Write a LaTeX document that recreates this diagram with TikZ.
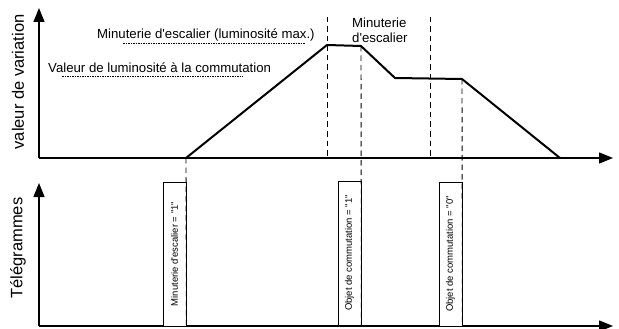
\documentclass[tikz,border=0pt]{standalone}
\usepackage{fontspec}
\setmainfont{Liberation Sans}[Ligatures=TeXOff]
\usetikzlibrary{arrows.meta}
\begin{document}
\begin{tikzpicture}[x=1pt,y=-1pt,
  axis/.style={line width=1.4pt,-{Triangle[length=14pt,width=11pt]}},
  curve/.style={line width=2pt,line join=miter},
  guide/.style={line width=0.9pt,dash pattern=on 5.5pt off 4pt},
  underl/.style={line width=0.6pt,dash pattern=on 1.5pt off 1pt},
  lbl/.style={font=\fontsize{13.2}{15}\selectfont,inner sep=0pt},
  axlbl/.style={font=\fontsize{16.5}{18}\selectfont,rotate=90,inner sep=0pt},
  tgbox/.style={draw,line width=0.8pt,fill=white,rotate=90,minimum width=144pt,
    minimum height=23pt,inner sep=0pt,font=\fontsize{9.5}{10}\selectfont}]
\useasboundingbox (0,0) rectangle (619,329);

% axes
\coordinate (o1) at (39,158);
\coordinate (y1) at (39,8);
\coordinate (x1) at (613,158);
\coordinate (o2) at (39,326);
\coordinate (y2) at (39,183);
\coordinate (x2) at (613,326);
\draw[axis] (o1) -- (y1);
\draw[axis] (o1) -- (x1);
\draw[axis] (o2) -- (y2);
\draw[axis] (o2) -- (x2);

% axis titles
\node[axlbl] (ylab1) at (18,82) {valeur de variation};
\node[axlbl] (ylab2) at (18,248) {Télégrammes};

% brightness curve
\coordinate (p0) at (186,158);
\coordinate (p1) at (327,45);
\coordinate (p2) at (361,46);
\coordinate (p3) at (395,78);
\coordinate (p4) at (462,79);
\coordinate (p5) at (560,158);
\draw[curve] (p0) -- (p1) -- (p2) -- (p3) -- (p4) -- (p5);

% telegram boxes
\node[tgbox] (b1) at (174.5,254) {Minuterie d'escalier = "1"};
\node[tgbox] (b2) at (349.5,253) {Objet de commutation = "1"};
\node[tgbox] (b3) at (450.5,254) {Objet de commutation = "0"};

% time guides
\coordinate (g1) at (327,17);
\coordinate (g1b) at (327,158);
\coordinate (g2) at (430,17);
\coordinate (g2b) at (430,158);
\draw[guide] (g1) -- (g1b);
\draw[guide] (g2) -- (g2b);
\draw[guide] (p0) -- (b1.south west);
\draw[guide] (p2) -- (b2.south west);
\draw[guide] (p4) -- (b3.south west);

% labels
\node[lbl,anchor=west] (t1) at (97,35) {Minuterie d'escalier (luminosité max.)};
\node[lbl,anchor=west] (t2) at (48,68) {Valeur de luminosité à la commutation};
\draw[underl] (123,43) -- (305,43);
\draw[underl] (62,76) -- (243,76);
\node[lbl,align=left,anchor=west] (t3) at (352,30.5) {Minuterie\\[0pt]d'escalier};
\end{tikzpicture}
\end{document}
